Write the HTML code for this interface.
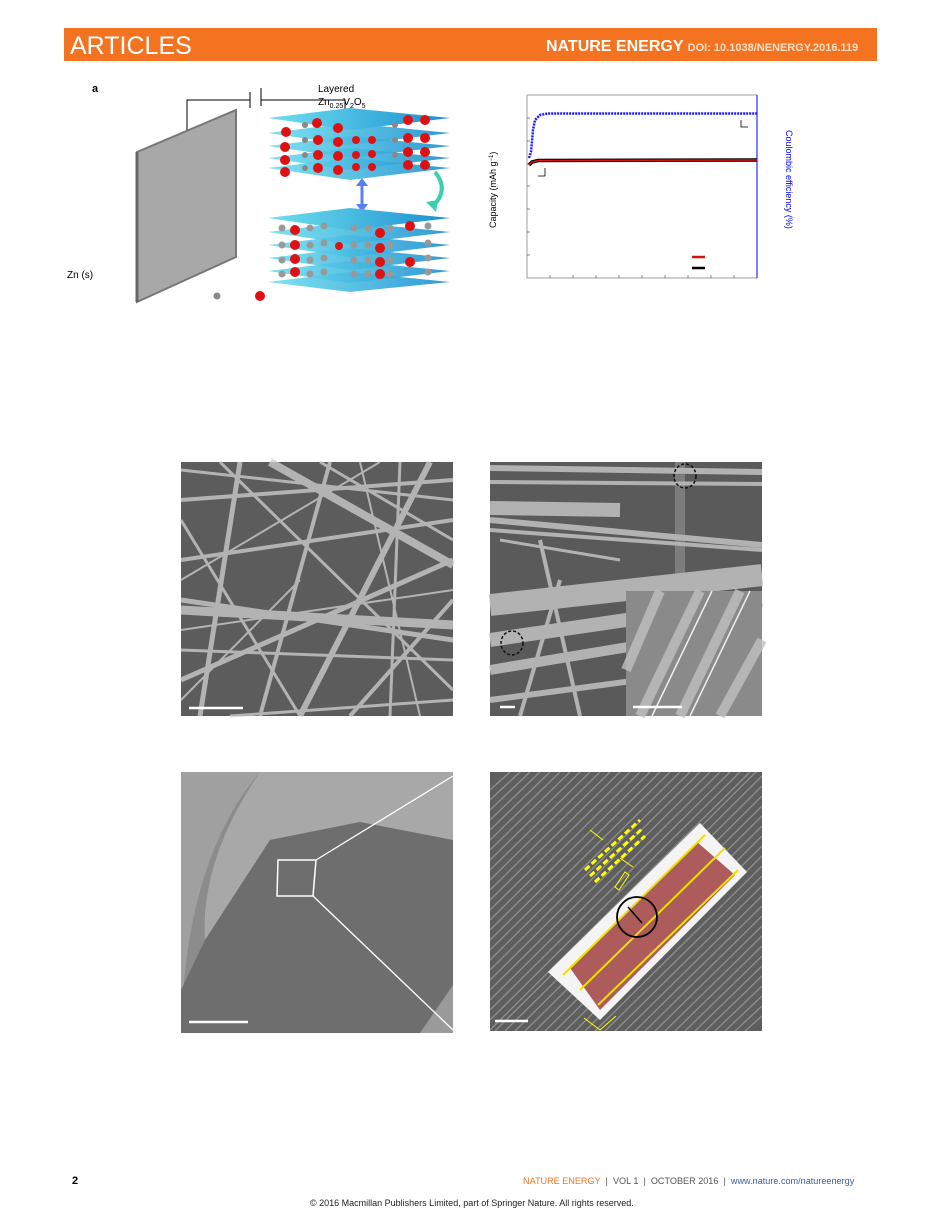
<!DOCTYPE html>
<html><head><meta charset="utf-8"><style>
body{margin:0;background:#fff;width:926px;height:1218px;position:relative;overflow:hidden;font-family:"Liberation Sans",sans-serif}
.hdr{position:absolute;left:64px;top:28px;width:813px;height:33px;background:#f37321}
.abs{position:absolute}
</style></head><body>
<div class="hdr"></div>
<div class="abs" style="left:70px;top:32px;font-size:25px;color:#fff;font-family:'Liberation Sans Narrow','Liberation Sans',sans-serif">ARTICLES</div>
<div class="abs" style="left:546px;top:38px;font-size:16px;color:#fff;font-weight:bold;font-family:'Liberation Sans Narrow','Liberation Sans',sans-serif;white-space:nowrap">NATURE ENERGY <span style="font-size:11px;color:#fde0c8">DOI: 10.1038/NENERGY.2016.119</span></div>

<svg class="abs" style="left:0;top:0" width="926" height="1218" xmlns="http://www.w3.org/2000/svg">
<defs>
<linearGradient id="cy" x1="0" x2="1"><stop offset="0" stop-color="#6fe0f0"/><stop offset="1" stop-color="#1a8fd0"/></linearGradient>
<clipPath id="t2"><rect x="490" y="772" width="272" height="259"/></clipPath>
</defs>
<text x="92" y="92" font-size="11" font-weight="bold">a</text>
<polygon points="137,152 236,110 236,257 137,302" fill="#a8a8a8" stroke="#777" stroke-width="2"/>
<line x1="137" y1="152" x2="137" y2="302" stroke="#666" stroke-width="3"/>
<polyline points="187,130 187,100 250,100" fill="none" stroke="#000"/>
<line x1="250" y1="92" x2="250" y2="108" stroke="#000"/>
<line x1="261" y1="88" x2="261" y2="106" stroke="#000"/>
<polyline points="261,100 345,100 345,112" fill="none" stroke="#000"/>
<text x="318" y="92" font-size="10">Layered</text>
<text x="318" y="105" font-size="10">Zn<tspan font-size="7" dy="3">0.25</tspan><tspan dy="-3">V</tspan><tspan font-size="7" dy="3">2</tspan><tspan dy="-3">O</tspan><tspan font-size="7" dy="3">5</tspan></text>
<text x="67" y="278" font-size="10">Zn (s)</text>
<g>
<polygon points="268,118 350,108 450,118 350,130" fill="url(#cy)"/>
<polygon points="268,133 350,123 450,133 350,145" fill="url(#cy)" opacity=".9"/>
<polygon points="268,146 350,136 450,146 350,158" fill="url(#cy)" opacity=".9"/>
<polygon points="268,158 350,148 450,158 350,170" fill="url(#cy)" opacity=".9"/>
<polygon points="268,168 350,158 450,168 350,180" fill="url(#cy)" opacity=".9"/>
<g fill="#e01010">
<circle cx="286" cy="132" r="5"/><circle cx="317" cy="123" r="5"/><circle cx="338" cy="128" r="5"/><circle cx="408" cy="120" r="5"/><circle cx="425" cy="120" r="5"/>
<circle cx="285" cy="147" r="5"/><circle cx="318" cy="140" r="5"/><circle cx="338" cy="142" r="5"/><circle cx="356" cy="140" r="4"/><circle cx="372" cy="140" r="4"/><circle cx="408" cy="138" r="5"/><circle cx="425" cy="138" r="5"/>
<circle cx="285" cy="160" r="5"/><circle cx="318" cy="155" r="5"/><circle cx="338" cy="156" r="5"/><circle cx="356" cy="155" r="4"/><circle cx="372" cy="154" r="4"/><circle cx="408" cy="152" r="5"/><circle cx="425" cy="152" r="5"/>
<circle cx="285" cy="172" r="5"/><circle cx="318" cy="168" r="5"/><circle cx="338" cy="170" r="5"/><circle cx="356" cy="167" r="4"/><circle cx="372" cy="167" r="4"/><circle cx="408" cy="165" r="5"/><circle cx="425" cy="165" r="5"/>
</g>
<g fill="#888"><circle cx="305" cy="125" r="3"/><circle cx="305" cy="140" r="3"/><circle cx="305" cy="155" r="3"/><circle cx="305" cy="168" r="3"/><circle cx="395" cy="125" r="3"/><circle cx="395" cy="140" r="3"/><circle cx="395" cy="155" r="3"/></g>
</g>
<path d="M362,182 L362,208" stroke="#5a7ff0" stroke-width="3"/>
<polygon points="356,186 362,178 368,186" fill="#5a7ff0"/><polygon points="356,204 362,212 368,204" fill="#5a7ff0"/>
<path d="M435,172 Q450,190 432,207" stroke="#3ad0b0" stroke-width="4" fill="none"/>
<polygon points="426,202 436,212 438,200" fill="#3ad0b0"/>
<g>
<polygon points="268,218 350,208 450,218 350,230" fill="url(#cy)"/>
<polygon points="268,232 350,222 450,232 350,244" fill="url(#cy)" opacity=".9"/>
<polygon points="268,245 350,235 450,245 350,257" fill="url(#cy)" opacity=".9"/>
<polygon points="268,258 350,248 450,258 350,270" fill="url(#cy)" opacity=".9"/>
<polygon points="268,271 350,261 450,271 350,283" fill="url(#cy)" opacity=".9"/>
<polygon points="268,282 350,272 450,282 350,292" fill="url(#cy)" opacity=".9"/>
<g fill="#999">
<circle cx="282" cy="228" r="3.5"/><circle cx="310" cy="228" r="3.5"/><circle cx="324" cy="226" r="3.5"/><circle cx="354" cy="228" r="3.5"/><circle cx="368" cy="228" r="3.5"/><circle cx="390" cy="228" r="3.5"/><circle cx="428" cy="226" r="3.5"/>
<circle cx="282" cy="245" r="3.5"/><circle cx="310" cy="245" r="3.5"/><circle cx="324" cy="243" r="3.5"/><circle cx="354" cy="245" r="3.5"/><circle cx="368" cy="245" r="3.5"/><circle cx="390" cy="245" r="3.5"/><circle cx="428" cy="243" r="3.5"/>
<circle cx="282" cy="260" r="3.5"/><circle cx="310" cy="260" r="3.5"/><circle cx="324" cy="258" r="3.5"/><circle cx="354" cy="260" r="3.5"/><circle cx="368" cy="260" r="3.5"/><circle cx="390" cy="260" r="3.5"/><circle cx="428" cy="258" r="3.5"/>
<circle cx="282" cy="274" r="3.5"/><circle cx="310" cy="274" r="3.5"/><circle cx="324" cy="272" r="3.5"/><circle cx="354" cy="274" r="3.5"/><circle cx="368" cy="274" r="3.5"/><circle cx="390" cy="274" r="3.5"/><circle cx="428" cy="272" r="3.5"/>
</g>
<g fill="#e01010">
<circle cx="295" cy="230" r="5"/><circle cx="295" cy="245" r="5"/><circle cx="295" cy="259" r="5"/><circle cx="295" cy="272" r="5"/>
<circle cx="339" cy="246" r="4"/><circle cx="380" cy="233" r="5"/><circle cx="380" cy="248" r="5"/><circle cx="380" cy="262" r="5"/><circle cx="380" cy="274" r="5"/>
<circle cx="410" cy="226" r="5"/><circle cx="410" cy="262" r="5"/>
</g>
</g>
<circle cx="217" cy="296" r="3.5" fill="#888"/>
<circle cx="260" cy="296" r="5" fill="#e01010"/>
<rect x="527" y="95" width="230" height="183" fill="none" stroke="#888" stroke-width="0.8"/>
<line x1="757" y1="95" x2="757" y2="278" stroke="#00f" stroke-width="1"/>
<g stroke="#555" stroke-width="0.7">
<line x1="527" y1="118" x2="530" y2="118"/><line x1="527" y1="141" x2="530" y2="141"/><line x1="527" y1="164" x2="530" y2="164"/><line x1="527" y1="186" x2="530" y2="186"/><line x1="527" y1="209" x2="530" y2="209"/><line x1="527" y1="232" x2="530" y2="232"/><line x1="527" y1="255" x2="530" y2="255"/>
<line x1="550" y1="278" x2="550" y2="275"/><line x1="573" y1="278" x2="573" y2="275"/><line x1="596" y1="278" x2="596" y2="275"/><line x1="619" y1="278" x2="619" y2="275"/><line x1="642" y1="278" x2="642" y2="275"/><line x1="665" y1="278" x2="665" y2="275"/><line x1="688" y1="278" x2="688" y2="275"/><line x1="711" y1="278" x2="711" y2="275"/><line x1="734" y1="278" x2="734" y2="275"/>
</g>
<path d="M529,158 L531,152 L533,130 L535,120 L540,115 L548,113.5 L757,113.5" stroke="#1a1aff" stroke-width="2.5" fill="none" stroke-dasharray="2,1"/>
<path d="M529,165 L532,162 L538,160.5 L757,160" stroke="#000" stroke-width="3.5" fill="none"/>
<path d="M529,165 L532,162 L538,160.5 L757,160" stroke="#e01010" stroke-width="1.5" fill="none"/>
<polyline points="741,120 741,127 748,127" fill="none" stroke="#000" stroke-width="0.8"/>
<polyline points="545,168 545,176 538,176" fill="none" stroke="#000" stroke-width="0.8"/>
<line x1="692" y1="257" x2="705" y2="257" stroke="#e01010" stroke-width="2.5"/>
<line x1="692" y1="268" x2="705" y2="268" stroke="#000" stroke-width="2.5"/>
<text transform="translate(496,228) rotate(-90)" font-size="9">Capacity (mAh g<tspan font-size="6" dy="-3">−1</tspan><tspan dy="3">)</tspan></text>
<text transform="translate(786,130) rotate(90)" font-size="9" fill="#00f">Coulombic efficiency (%)</text>

<!-- SEM1 -->
<g>
<rect x="181" y="462" width="272" height="254" fill="#5c5c5c"/>
<g stroke="#d0d0d0" stroke-linecap="butt" opacity=".75">
<line x1="181" y1="610" x2="453" y2="625" stroke-width="9"/><line x1="181" y1="600" x2="453" y2="640" stroke-width="5"/>
<line x1="270" y1="462" x2="453" y2="565" stroke-width="8"/><line x1="181" y1="500" x2="453" y2="480" stroke-width="4"/>
<line x1="200" y1="716" x2="240" y2="462" stroke-width="5"/><line x1="300" y1="716" x2="430" y2="462" stroke-width="6"/>
<line x1="181" y1="560" x2="453" y2="520" stroke-width="4"/><line x1="220" y1="462" x2="453" y2="690" stroke-width="3"/>
<line x1="181" y1="680" x2="453" y2="560" stroke-width="5"/><line x1="350" y1="716" x2="453" y2="600" stroke-width="4"/>
<line x1="181" y1="520" x2="300" y2="716" stroke-width="3"/><line x1="260" y1="716" x2="330" y2="462" stroke-width="4"/>
<line x1="390" y1="716" x2="400" y2="462" stroke-width="3"/><line x1="181" y1="650" x2="453" y2="660" stroke-width="3"/>
<line x1="181" y1="470" x2="453" y2="500" stroke-width="3"/><line x1="230" y1="716" x2="453" y2="700" stroke-width="3"/>
<line x1="181" y1="580" x2="380" y2="462" stroke-width="2"/><line x1="320" y1="462" x2="453" y2="540" stroke-width="3"/>
<line x1="181" y1="700" x2="300" y2="580" stroke-width="2"/><line x1="420" y1="716" x2="360" y2="462" stroke-width="2"/>
<line x1="181" y1="630" x2="453" y2="590" stroke-width="2"/><line x1="240" y1="462" x2="200" y2="716" stroke-width="2"/>
</g>
<line x1="189" y1="708" x2="243" y2="708" stroke="#fff" stroke-width="2.5"/>
</g>
<!-- SEM2 -->
<g>
<rect x="490" y="462" width="272" height="254" fill="#5a5a5a"/>
<g stroke="#c8c8c8" opacity=".8" stroke-linecap="butt">
<line x1="490" y1="468" x2="762" y2="472" stroke-width="6"/>
<line x1="490" y1="482" x2="762" y2="484" stroke-width="4"/>
<line x1="490" y1="508" x2="620" y2="510" stroke-width="14"/>
<line x1="490" y1="520" x2="762" y2="545" stroke-width="6"/>
<line x1="490" y1="530" x2="762" y2="550" stroke-width="4"/>
<line x1="490" y1="605" x2="762" y2="575" stroke-width="22"/>
<line x1="490" y1="640" x2="762" y2="600" stroke-width="14"/>
<line x1="490" y1="670" x2="640" y2="645" stroke-width="10"/>
<line x1="490" y1="700" x2="640" y2="680" stroke-width="6"/>
<line x1="520" y1="716" x2="560" y2="580" stroke-width="4"/>
<line x1="580" y1="716" x2="540" y2="540" stroke-width="4"/>
<line x1="620" y1="560" x2="500" y2="540" stroke-width="3"/>
<line x1="680" y1="462" x2="680" y2="590" stroke-width="10" opacity=".4"/>
</g>
<rect x="626" y="591" width="136" height="125" fill="#8a8a8a"/>
<g stroke="#c0c0c0" stroke-width="10" opacity=".8"><line x1="640" y1="716" x2="700" y2="591"/><line x1="680" y1="716" x2="740" y2="591"/><line x1="720" y1="716" x2="762" y2="640"/><line x1="626" y1="670" x2="660" y2="591"/></g>
<g stroke="#eee" stroke-width="1.5"><line x1="652" y1="716" x2="712" y2="591"/><line x1="690" y1="716" x2="750" y2="591"/></g>
<ellipse cx="685" cy="476" rx="11" ry="12" fill="none" stroke="#111" stroke-width="1.5" stroke-dasharray="3,2"/>
<ellipse cx="512" cy="643" rx="11" ry="12" fill="none" stroke="#111" stroke-width="1.5" stroke-dasharray="3,2"/>
<line x1="500" y1="707" x2="515" y2="707" stroke="#fff" stroke-width="2.5"/>
<line x1="633" y1="707" x2="682" y2="707" stroke="#fff" stroke-width="2.5"/>
</g>
<!-- TEM1 -->
<g>
<rect x="181" y="772" width="272" height="261" fill="#8c8c8c"/>
<path d="M181,1033 Q185,860 260,772 L181,772 Z" fill="#a0a0a0"/>
<path d="M260,772 Q200,860 205,940 L270,840 L360,822 L453,840 L453,772 Z" fill="#a8a8a8"/>
<path d="M205,940 L270,840 L360,822 L453,840 L453,1000 L420,1033 L181,1033 L181,990 Z" fill="#6e6e6e"/>
<path d="M420,1033 L453,985 L453,1033 Z" fill="#9a9a9a"/>
<polygon points="278,860 316,860 313,896 277,896" fill="none" stroke="#fff" stroke-width="1.5"/>
<line x1="316" y1="860" x2="453" y2="776" stroke="#fff" stroke-width="1.3"/>
<line x1="313" y1="896" x2="453" y2="1030" stroke="#fff" stroke-width="1.3"/>
<line x1="189" y1="1022" x2="248" y2="1022" stroke="#fff" stroke-width="2.5"/>
</g>
<!-- TEM2 -->
<g>
<rect x="490" y="772" width="272" height="259" fill="#5e5e5e"/>
<g stroke="#8c8c8c" stroke-width="1.4" clip-path="url(#t2)">
<path d="M490,790 L510,772 M490,800 L520,772 M490,810 L530,772 M490,820 L540,772 M490,830 L550,772 M490,840 L560,772 M490,850 L570,772 M490,860 L580,772 M490,870 L590,772 M490,880 L600,772 M490,890 L610,772 M490,900 L620,772 M490,910 L630,772 M490,920 L640,772 M490,930 L650,772 M490,940 L660,772 M490,950 L670,772 M490,960 L680,772 M490,970 L690,772 M490,980 L700,772 M490,990 L710,772 M490,1000 L720,772 M490,1010 L730,772 M490,1020 L740,772 M490,1030 L750,772 M495,1031 L762,766 M505,1031 L762,776 M515,1031 L762,786 M525,1031 L762,796 M535,1031 L762,806 M545,1031 L762,816 M555,1031 L762,826 M565,1031 L762,836 M575,1031 L762,846 M585,1031 L762,856 M595,1031 L762,866 M605,1031 L762,876 M615,1031 L762,886 M625,1031 L762,896 M635,1031 L762,906 M645,1031 L762,916 M655,1031 L762,926 M665,1031 L762,936 M675,1031 L762,946 M685,1031 L762,956 M695,1031 L762,966 M705,1031 L762,976 M715,1031 L762,986 M725,1031 L762,996 M735,1031 L762,1006 M745,1031 L762,1016"/>
</g>
<polygon points="548,972 700,823 747,872 600,1020" fill="#f4f4f4"/>
<polygon points="570,968 697,842 735,875 600,1010" fill="#a04040" opacity=".85"/>
<g stroke="#f0e000" stroke-width="2"><line x1="563" y1="975" x2="705" y2="835"/><line x1="580" y1="990" x2="725" y2="848"/><line x1="598" y1="1005" x2="738" y2="870"/></g>
<circle cx="637" cy="917" r="20" fill="none" stroke="#000" stroke-width="1.8"/>
<line x1="628" y1="907" x2="642" y2="923" stroke="#000" stroke-width="1.5"/>
<g stroke="#ff0" stroke-width="3" stroke-dasharray="6,3"><line x1="585" y1="870" x2="640" y2="820"/><line x1="590" y1="876" x2="643" y2="828"/><line x1="595" y1="882" x2="645" y2="836"/></g>
<polygon points="615,887 625,872 629,875 619,890" fill="none" stroke="#ff0"/>
<line x1="590" y1="830" x2="603" y2="840" stroke="#ff0"/><line x1="633" y1="867" x2="620" y2="858" stroke="#ff0"/>
<polyline points="584,1018 600,1030 616,1016" fill="none" stroke="#ff0"/>
<line x1="495" y1="1021" x2="528" y2="1021" stroke="#fff" stroke-width="2.5"/>
</g>
</svg>

<div class="abs" style="left:72px;top:1175px;font-size:11px;font-weight:bold">2</div>
<div class="abs" style="left:523px;top:1176px;font-size:9.1px;color:#555;font-family:'Liberation Sans Narrow','Liberation Sans',sans-serif;white-space:nowrap"><span style="color:#f37321">NATURE ENERGY</span> &nbsp;| &nbsp;VOL 1 &nbsp;| &nbsp;OCTOBER 2016 &nbsp;| &nbsp;<span style="color:#3a5f9a">www.nature.com/natureenergy</span></div>
<div class="abs" style="left:310px;top:1198px;font-size:9px;color:#222;font-family:'Liberation Sans Narrow','Liberation Sans',sans-serif;white-space:nowrap">© 2016 Macmillan Publishers Limited, part of Springer Nature. All rights reserved.</div>
</body></html>
